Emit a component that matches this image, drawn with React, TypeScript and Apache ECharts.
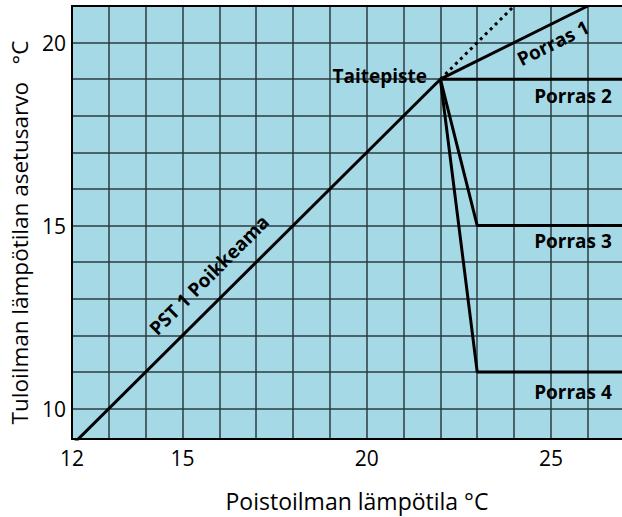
import React, { useEffect, useRef } from "react";
import * as echarts from "echarts";

const xTickLabels = [12, 15, 20, 25];
const xGridValues = [12, 13, 14, 15, 16, 17, 18, 19, 20, 21, 22, 23, 24, 25, 26];
const yTickLabels = [10, 15, 20];
const yGridValues = [10, 11, 12, 13, 14, 15, 16, 17, 18, 19, 20, 21];

const pst1Line = [[12, 9], [22, 19]];
const extensionLine = [[22, 19], [24, 21]];
const porras1 = [[22, 19], [26, 21]];
const porras2 = [[22, 19], [27, 19]];
const porras3 = [[22, 19], [23, 15], [27, 15]];
const porras4 = [[22, 19], [23, 11], [27, 11]];

const FONT = '"Open Sans", "DejaVu Sans", sans-serif';

export default function App() {
  const ref = useRef<HTMLDivElement>(null);
  useEffect(() => {
    document.body.style.margin = "0";
    if (!ref.current) return;
    const chart = echarts.init(ref.current, null, { renderer: "svg" });
    const lineSeries = (data: number[][], dashed = false) => ({
      type: "line",
      data,
      symbol: "none",
      silent: true,
      clip: true,
      lineStyle: {
        color: "#000",
        width: 3,
        type: dashed ? [3, 4] : "solid",
        cap: "butt",
      },
      emphasis: { disabled: true },
      z: 5,
    });
    const boldText = (text: string, x: number, y: number, rotation = 0, align = "center") => ({
      type: "text",
      x,
      y,
      rotation,
      z: 10,
      style: {
        text,
        fill: "#000",
        font: `bold 19px ${FONT}`,
        align,
        verticalAlign: "middle",
      },
    });
    chart.setOption({
      animation: false,
      grid: {
        left: 72,
        top: 6,
        width: 551,
        height: 437,
        show: true,
        backgroundColor: "#a6d9e6",
        borderWidth: 0,
      },
      xAxis: [
        {
          type: "value",
          min: 12,
          max: 26.93,
          name: "Poistoilman lämpötila °C",
          nameLocation: "middle",
          nameGap: 50,
          nameTextStyle: { fontFamily: FONT, fontSize: 23, color: "#000", padding: [0, 0, 0, 20] },
          axisLine: { show: true, lineStyle: { color: "#000", width: 2 } },
          axisTick: { show: false, customValues: xGridValues },
          axisLabel: {
            customValues: xTickLabels,
            fontFamily: FONT,
            fontSize: 21,
            color: "#000",
            margin: 8,
          },
          splitLine: { show: true, lineStyle: { color: "#2b3a3f", width: 1.5 } },
        },
        {
          type: "value",
          position: "top",
          min: 12,
          max: 26.93,
          axisLine: { show: true, lineStyle: { color: "#000", width: 2 } },
          axisTick: { show: false },
          axisLabel: { show: false },
          splitLine: { show: false },
        },
      ],
      yAxis: {
        type: "value",
        min: 9.17,
        max: 21.0,
        name: "Tuloilman lämpötilan asetusarvo   °C",
        nameLocation: "middle",
        nameGap: 39,
        nameRotate: 90,
        nameTextStyle: { fontFamily: FONT, fontSize: 22.5, color: "#000", padding: [0, 20, 0, 0] },
        axisLine: { show: true, lineStyle: { color: "#000", width: 2 } },
        axisTick: { show: false, customValues: yGridValues },
        axisLabel: {
          customValues: yTickLabels,
          fontFamily: FONT,
          fontSize: 21,
          color: "#000",
          margin: 6,
        },
        splitLine: { show: true, lineStyle: { color: "#2b3a3f", width: 1.5 } },
      },
      series: [
        lineSeries(pst1Line),
        lineSeries(extensionLine, true),
        lineSeries(porras1),
        lineSeries(porras2),
        lineSeries(porras3),
        lineSeries(porras4),
      ],
      graphic: [
        boldText("Taitepiste", 427, 76, 0, "right"),
        boldText("Porras 1", 553, 43, Math.atan(0.5)),
        boldText("Porras 2", 573, 96),
        boldText("Porras 3", 573, 241),
        boldText("Porras 4", 573, 392),
        boldText("PST 1 Poikkeama", 209, 275, Math.PI / 4),
      ],
    });
    return () => chart.dispose();
  }, []);
  return <div ref={ref} style={{ width: 622, height: 517 }} />;
}
